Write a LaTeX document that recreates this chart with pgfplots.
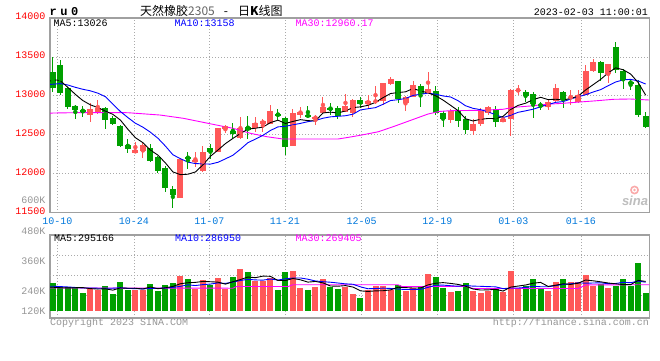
\documentclass[border=0pt]{standalone}
\usepackage{pgfplots}
\usepackage{pgfplotstable}
\pgfplotsset{compat=1.18}
\usepackage{fontspec}
\setmainfont{Liberation Mono}
\newfontfamily\cjk{Noto Sans CJK SC}
\newfontfamily\lsans{Liberation Sans}
\definecolor{cred}{RGB}{255,88,88}
\definecolor{cgreen}{RGB}{0,160,0}
\definecolor{ylab}{RGB}{255,0,0}
\definecolor{xlab}{RGB}{0,120,220}
\definecolor{glab}{RGB}{150,150,150}
\definecolor{gridc}{RGB}{170,170,170}
\definecolor{bordc}{RGB}{160,160,160}
\definecolor{ma30}{RGB}{255,0,255}
\definecolor{ma10}{RGB}{0,0,255}
\definecolor{tgray}{RGB}{100,100,100}
\definecolor{logog}{RGB}{190,190,190}
\definecolor{logor}{RGB}{250,170,170}

\pgfplotstableread{
k O H L C V
5 12754 12904 12669 12832 250.8
6 12797 12947 12767 12844 244.2
11 12271 12412 12271 12305 244.2
12 12288 12391 12207 12365 244.2
17 11693 12198 11693 12190 298.8
19 12155 12279 12091 12181 246.8
20 12031 12356 12027 12279 282.8
22 12284 12592 12284 12592 290.8
23 12570 12626 12519 12609 246.8
25 12464 12724 12446 12592 326.8
27 12592 12724 12540 12652 277.5
28 12643 12707 12536 12678 277.5
29 12639 12879 12639 12806 290.8
32 12357 12836 12357 12780 318.8
33 12759 12861 12712 12797 250.8
35 12707 12759 12626 12733 256.2
36 12780 12990 12776 12857 286.8
39 12797 13024 12797 12870 256.2
40 12784 12955 12724 12947 226.8
42 12891 13011 12827 12934 244.2
43 12926 13127 12891 12934 258.8
44 12934 13170 12883 13170 258.8
45 13157 13247 13140 13212 244.2
47 12904 12998 12810 12981 237.5
48 12990 13195 12990 13144 250.8
50 13033 13307 13033 13088 306.8
53 12690 12831 12656 12806 234.8
56 12553 12699 12498 12639 238.8
57 12635 12849 12618 12806 230.8
58 12776 12870 12754 12862 237.5
60 12669 12724 12669 12707 234.8
61 12703 13084 12489 13076 318.8
62 13063 13140 13011 13076 250.8
66 12861 12947 12814 12926 238.8
67 12934 13153 12926 13097 274.8
69 12977 13076 12883 12990 274.8
70 12917 13076 12904 13011 274.8
71 13011 13397 13011 13324 302.8
72 13319 13469 13311 13439 258.8
74 13277 13405 13161 13405 250.8
}\upT

\pgfplotstableread{
k O H L C V
0 13307 13504 13054 13097 270.8
1 13396 13461 13011 13041 253.5
2 13105 13110 12832 12861 253.5
3 12874 12883 12703 12823 253.5
4 12814 12870 12733 12806 230.8
7 12840 12861 12575 12690 258.8
8 12716 12742 12626 12643 226.8
9 12613 12626 12348 12361 274.8
10 12365 12446 12271 12322 244.2
13 12331 12378 12155 12168 266.8
14 12211 12228 12014 12040 240.2
15 12074 12100 11770 11821 262.8
16 11804 11843 11565 11727 270.8
18 12220 12279 12065 12194 286.8
21 12331 12382 12185 12275 264.2
24 12553 12648 12455 12515 294.8
26 12596 12737 12446 12558 314.8
30 12767 12831 12690 12746 242.8
31 12716 12733 12241 12348 314.8
34 12750 12870 12712 12737 244.2
37 12844 12913 12754 12831 256.2
38 12844 12870 12699 12746 246.8
41 12943 12990 12840 12900 210.8
46 13191 13191 12913 12964 262.8
49 13127 13148 12861 13020 258.8
51 13063 13127 12754 12776 294.8
52 12784 12810 12605 12703 250.8
54 12810 12853 12605 12682 238.8
55 12707 12742 12511 12562 270.8
59 12827 12870 12596 12669 250.8
63 13050 13076 12926 13003 258.8
64 13024 13054 12720 12891 286.8
65 12896 12926 12819 12866 250.8
68 13054 13067 12849 12956 286.8
73 13439 13452 13195 13298 266.8
75 13623 13696 13290 13332 258.8
76 13324 13341 13084 13204 286.8
77 13182 13212 13076 13161 258.8
78 13140 13204 12724 12754 350.8
79 12742 12797 12583 12596 230.8
}\downT

\pgfplotsset{
  kstyle/.style={
    scale only axis, width=599.2pt,
    xmin=-0.373, xmax=79.47,
    axis line style={draw=bordc, line width=1.2pt},
    grid style={draw=gridc, line width=0.8pt, dash pattern=on 1pt off 2pt},
    major tick length=0pt, tick style={draw=none},
    xtick={0.6,10.82,20.85,30.94,41.16,51.23,61.36,70.38},
    xmajorgrids, scaled ticks=false,
    font=\fontsize{10}{12}\selectfont,
  },
  wick/.style={#1, only marks, mark=none, forget plot,
    error bars/.cd, y dir=both, y explicit, error mark=none,
    error bar style={draw=#1, line width=1pt}},
  body/.style={#1, only marks, mark=none, forget plot,
    error bars/.cd, y dir=both, y explicit, error mark=none,
    error bar style={draw=#1, line width=6pt}},
}

\begin{document}
\begin{tikzpicture}[x=1pt,y=1pt]
\fill[white] (0,0) rectangle (660,360);

% ---------------- price panel ----------------
\begin{axis}[kstyle, at={(50pt,147.3pt)}, anchor=south west, height=194.7pt,
  ymin=11500, ymax=14000, ymajorgrids,
  ytick={11500,12000,12500,13000,13500,14000},
  yticklabels={11500,12000,12500,13000,13500,14000},
  yticklabel style={text=ylab, anchor=east, inner sep=0pt, xshift=-4.3pt, yshift=1.5pt},
  xticklabels={10-10,10-24,11-07,11-21,12-05,12-19,01-03,01-16},
  xticklabel style={text=xlab, anchor=north, inner sep=0pt, yshift=-4.6pt},
]
\addplot[wick=cred] table[x=k, y expr={(\thisrow{H}+\thisrow{L})/2}, y error expr={(\thisrow{H}-\thisrow{L})/2}] {\upT};
\addplot[body=cred] table[x=k, y expr={(\thisrow{O}+\thisrow{C})/2}, y error expr={max(abs(\thisrow{C}-\thisrow{O})/2,6.5)}] {\upT};
\addplot[wick=cgreen] table[x=k, y expr={(\thisrow{H}+\thisrow{L})/2}, y error expr={(\thisrow{H}-\thisrow{L})/2}] {\downT};
\addplot[body=cgreen] table[x=k, y expr={(\thisrow{O}+\thisrow{C})/2}, y error expr={max(abs(\thisrow{C}-\thisrow{O})/2,6.5)}] {\downT};

% MA30
\addplot[ma30, line width=0.9pt, mark=none] coordinates {(-0.37,12776) (0,12780) (4,12786) (10,12784) (12,12770) (14.3,12754) (17.4,12712) (19.6,12669) (21.8,12626) (24,12584) (26.3,12520) (28.5,12476) (30.7,12446) (38,12446) (39.4,12468) (41.2,12498) (43.4,12540) (45.6,12613) (47.8,12690) (50,12767) (51.5,12800) (53,12810) (57,12815) (60,12828) (61.4,12853) (63.6,12870) (65.8,12892) (68,12905) (70.2,12921) (72.5,12938) (74.7,12956) (76.9,12960) (79.47,12947)};
% MA10
\addplot[ma10, line width=0.9pt, mark=none] coordinates {(-0.37,13148) (0,13150) (1,13158) (2,13140) (3,13110) (4,13085) (5,13065) (6,13035) (7,12990) (8,12895) (9,12800) (10,12722) (11,12649) (12,12599) (13,12534) (14,12457) (15,12356) (16,12244) (17,12194) (18,12149) (19,12131) (20,12127) (21,12124) (22,12147) (23,12191) (24,12238) (25,12315) (26,12399) (27,12445) (28,12493) (29,12556) (30,12602) (31,12610) (32,12628) (33,12647) (34,12669) (35,12684) (36,12713) (37,12731) (38,12738) (39,12745) (40,12765) (41,12820) (42,12835) (43,12849) (44,12892) (45,12940) (46,12951) (47,12966) (48,13006) (49,13021) (50,13035) (51,13022) (52,12999) (53,12986) (54,12938) (55,12873) (56,12840) (57,12823) (58,12794) (59,12759) (60,12721) (61,12751) (62,12789) (63,12808) (64,12829) (65,12860) (66,12888) (67,12917) (68,12927) (69,12959) (70,12989) (71,13014) (72,13050) (73,13080) (74,13131) (75,13178) (76,13206) (77,13212) (78,13192) (79,13152)};
% MA5
\addplot[black, line width=0.9pt, mark=none] coordinates {(-0.37,13192) (0,13200) (0.5,13204) (1,13195) (2,13110) (3,13020) (4,12940) (5,12885) (6,12850) (7,12805) (8,12763) (9,12690) (10,12572) (11,12464) (12,12399) (13,12304) (14,12240) (15,12140) (16,12024) (17,11989) (18,11994) (19,12023) (20,12114) (21,12224) (22,12304) (23,12387) (24,12454) (25,12517) (26,12573) (27,12585) (28,12599) (29,12657) (30,12688) (31,12646) (32,12672) (33,12695) (34,12682) (35,12679) (36,12781) (37,12791) (38,12781) (39,12807) (40,12850) (41,12859) (42,12879) (43,12917) (44,12977) (45,13030) (46,13043) (47,13052) (48,13094) (49,13064) (50,13039) (51,13002) (52,12946) (53,12879) (54,12811) (55,12706) (56,12678) (57,12699) (58,12710) (59,12708) (60,12737) (61,12824) (62,12878) (63,12906) (64,12951) (65,12982) (66,12952) (67,12957) (68,12947) (69,12967) (70,12996) (71,13076) (72,13144) (73,13212) (74,13295) (75,13360) (76,13336) (77,13280) (78,13171) (79,13009)};
\end{axis}

% ---------------- volume panel ----------------
\begin{axis}[kstyle, at={(50pt,42pt)}, anchor=south west, height=83pt,
  ymin=130.8, ymax=462.8,
  ytick={160,240,360}, yticklabels={120K,240K,360K},
  yticklabel style={text=glab, anchor=east, inner sep=0pt, xshift=-4.3pt},
  extra y ticks={222.8,302.8,382.8}, extra y tick labels={},
  extra y tick style={grid=major},
  xticklabels={{},{},{},{},{},{},{},{}},
]
\addplot[body=cred] table[x=k, y expr={(\thisrow{V}+160)/2}, y error expr={(\thisrow{V}-160)/2}] {\upT};
\addplot[body=cgreen] table[x=k, y expr={(\thisrow{V}+160)/2}, y error expr={(\thisrow{V}-160)/2}] {\downT};

\addplot[ma30, line width=0.9pt, mark=none] coordinates {(-0.37,251) (24,250) (24.5,257) (31.4,257) (32,264) (46,264) (46.5,257) (55,257) (56,249) (70,249) (71,263) (79.47,264)};
\addplot[ma10, line width=0.9pt, mark=none] coordinates {(-0.37,258) (0,258) (2,255) (4,251) (6,250) (8,250) (9,251.8) (10,249.1) (11,248.2) (12,247.2) (13,248.6) (14,249.5) (15,250.7) (16,253.4) (17,257.4) (18,263.4) (19,260.6) (20,264.4) (21,266.5) (22,271.1) (23,269.1) (24,274.6) (25,281) (26,285.4) (27,283.2) (28,282.3) (29,286.7) (30,282.7) (31,287.8) (32,290.5) (33,291) (34,285.9) (35,278.9) (36,276.1) (37,273.9) (38,270.8) (39,267.4) (40,265.8) (41,255.4) (42,247.9) (43,248.7) (44,250.2) (45,249) (46,246.6) (47,244.7) (48,245.1) (49,245.4) (50,253.4) (51,261.8) (52,262.4) (53,260) (54,258) (55,260.7) (56,258.3) (57,257.6) (58,256.3) (59,255.5) (60,248.3) (61,250.7) (62,250.7) (63,253.1) (64,257.9) (65,255.9) (66,255.9) (67,260.3) (68,265.2) (69,267.6) (70,271.6) (71,270) (72,270.8) (73,271.6) (74,268) (75,268.8) (76,273.6) (77,272) (78,278.4) (79,274)};
\addplot[black, line width=0.9pt, mark=none] coordinates {(-0.37,254) (0,254) (1,252) (2,251) (3,252) (4,252.4) (5,248.4) (6,246.6) (7,247.6) (8,242.3) (9,251.1) (10,249.8) (11,249.8) (12,246.8) (13,254.8) (14,247.9) (15,251.6) (16,257) (17,267.9) (18,271.9) (19,273.2) (20,277.2) (21,275.9) (22,274.3) (23,266.3) (24,275.9) (25,284.7) (26,294.8) (27,292.1) (28,298.3) (29,297.5) (30,280.7) (31,280.7) (32,288.9) (33,283.6) (34,274.3) (35,277) (36,271.4) (37,258.8) (38,258) (39,260.4) (40,254.6) (41,239.4) (42,237) (43,239.4) (44,239.9) (45,243.4) (46,253.8) (47,252.4) (48,250.8) (49,250.8) (50,263.3) (51,269.7) (52,272.4) (53,269.2) (54,265.2) (55,258) (56,246.8) (57,242.8) (58,243.3) (59,245.7) (60,238.5) (61,254.5) (62,258.5) (63,262.8) (64,270) (65,273.2) (66,257.2) (67,262) (68,267.6) (69,265.2) (70,270) (71,282.8) (72,279.6) (73,275.6) (74,270.8) (75,267.6) (76,264.4) (77,264.4) (78,281.2) (79,277.2)};
\end{axis}

% ---------------- texts ----------------
\begin{scope}[every node/.style={inner sep=0pt, font=\fontsize{10}{12}\selectfont}]
\node[anchor=west] at (49.3,348.3) {\fontsize{12}{12}\selectfont\bfseries\addfontfeature{LetterSpace=30}ru0};
\node[anchor=west] at (140,349) {\cjk\fontsize{12}{14}\selectfont 天然橡胶{\color{tgray}2305}\hspace{9pt}-\hspace{10pt}日\textbf{K}线图};
\node[anchor=east] at (648,347.8) {2023-02-03 11:00:01};
\node[anchor=west] at (53.3,336.5) {MA5:13026};
\node[anchor=west, text=ma10] at (174.5,336.5) {MA10:13158};
\node[anchor=west, text=ma30] at (295.5,336.5) {MA30:12960.17};
\node[anchor=west] at (54,121.5) {MA5:295166};
\node[anchor=west, text=ma10] at (175,121.5) {MA10:286950};
\node[anchor=west, text=ma30] at (295.5,121.5) {MA30:269405};
\node[anchor=east, text=glab] at (45.7,129) {480K};
\node[anchor=east, text=glab] at (45.7,160) {600K};
\node[anchor=west, text=glab] at (50,37) {Copyright 2023 SINA.COM};
\node[anchor=east, text=glab] at (649,37) {http://finance.sina.com.cn};
\node[anchor=base, text=logog] at (635,155) {\lsans\bfseries\itshape\fontsize{13}{14}\selectfont sina};
\end{scope}
\draw[logor, line width=1.6pt] (634.5,170) circle (3.6pt);
\fill[logor] (634.5,170) circle (1.3pt);
\end{tikzpicture}
\end{document}
